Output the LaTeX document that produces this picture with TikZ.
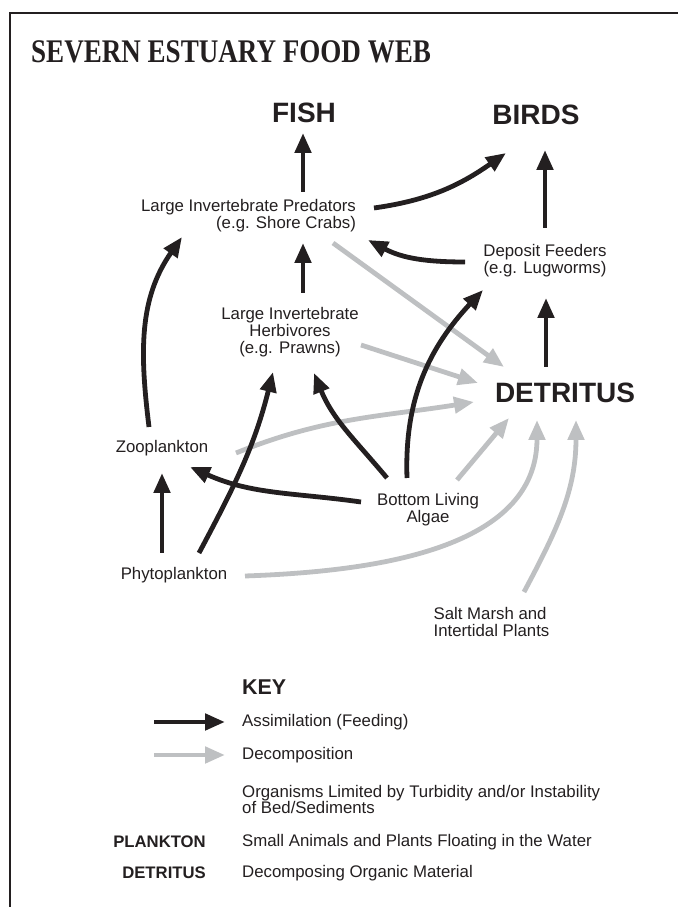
\documentclass[tikz,border=0pt]{standalone}
\usepackage{fontspec}
\setmainfont{Liberation Sans}
\newfontfamily\titlefont[FakeStretch=0.82]{Liberation Serif}
\usepackage{tikz}
\usetikzlibrary{arrows.meta, calc}
\definecolor{mydark}{RGB}{35,31,32}
\definecolor{mygray}{RGB}{190,192,194}
\tikzset{
  txt/.style={inner sep=0pt, text=mydark,
    font=\fontsize{16.8}{17}\selectfont},
  bigtxt/.style={inner sep=0pt, text=mydark,
    font=\fontsize{28}{30}\selectfont\bfseries},
  keytxt/.style={inner sep=0pt, text=mydark,
    font=\fontsize{16.7}{18}\selectfont\bfseries},
  feed/.style={-{Triangle[length=20pt,width=16pt]}, line width=4.8pt, color=mydark},
  decomp/.style={-{Triangle[length=20pt,width=16pt]}, line width=4.8pt, color=mygray}
}

\begin{document}
\begin{tikzpicture}[x=1pt,y=1pt]
  \useasboundingbox (0,0) rectangle (678,907);
  % ── frame and title ─────────────────────────────────────────────────────
  \draw[line width=1.3pt,color=mydark] (10,0) -- (10,894) -- (678,894);
  \node[anchor=west,inner sep=0pt,text=mydark,
    font=\titlefont\fontsize{33}{36}\bfseries\selectfont] (title) at (31,855)
    {SEVERN ESTUARY FOOD WEB};
  % ── organisms ───────────────────────────────────────────────────────────
  \node[bigtxt] (fish) at (304,794.5) {FISH};
  \node[bigtxt] (birds) at (536,792) {BIRDS};
  \node[bigtxt] (det) at (565,514) {DETRITUS};
  \node[txt,align=right] (pred) at (248.5,691) {Large Invertebrate Predators\\(e.g. Shore Crabs)};
  \node[txt,align=center] (herb) at (290,575) {Large Invertebrate\\Herbivores\\(e.g. Prawns)};
  \node[txt,align=center] (dep) at (545,646) {Deposit Feeders\\(e.g. Lugworms)};
  \node[txt] (zoo) at (162,459) {Zooplankton};
  \node[txt,align=center] (algae) at (428,397) {Bottom Living\\Algae};
  \node[txt] (phyto) at (174,332) {Phytoplankton};
  \node[txt,align=left] (salt) at (491.5,285) {Salt Marsh and\\Intertidal Plants};
  % ── decomposition ───────────────────────────────────────────────────────
  \draw[decomp] ($(pred)+(84.5,-27)$) -- ($(det)+(-61,26)$);
  \draw[decomp] ($(herb)+(71,-13)$) -- ($(det)+(-87,10)$);
  \draw[decomp] ($(zoo)+(74,-5)$) to[out=22,in=189] ($(det)+(-91,-9)$);
  \draw[decomp] ($(algae)+(29,30)$) -- ($(det)+(-56,-25)$);
  \draw[decomp] ($(phyto)+(71,-1)$) to[out=2,in=-90] ($(det)+(-28,-27)$);
  \draw[decomp] ($(salt)+(32.5,30)$) to[out=62,in=-90] ($(det)+(11,-27)$);
  % ── feeding ─────────────────────────────────────────────────────────────
  \draw[feed] ($(pred)+(54.5,24)$) -- ($(fish)+(-1,-20.5)$);
  \draw[feed] ($(dep)+(0,33)$) -- ($(birds)+(9,-35)$);
  \draw[feed] ($(det)+(-19,26)$) -- ($(dep)+(1,-37)$);
  \draw[feed] ($(herb)+(13,39)$) -- ($(pred)+(54.5,-27)$);
  \draw[feed] ($(pred)+(125.5,8)$) to[out=8,in=215] ($(birds)+(-30,-38)$);
  \draw[feed] ($(dep)+(-80,-1)$) to[out=180,in=-28] ($(pred)+(119.5,-24)$);
  \draw[feed] ($(zoo)+(-13,21)$) to[out=97,in=-125] ($(pred)+(-66.5,-21)$);
  \draw[feed] ($(algae)+(-67,8)$) to[out=172,in=-24] ($(zoo)+(28,-19)$);
  \draw[feed] ($(phyto)+(-12,22)$) -- ($(zoo)+(0,-25)$);
  \draw[feed] ($(phyto)+(25,22)$) to[out=62,in=-104] ($(herb)+(-17,-40)$);
  \draw[feed] ($(algae)+(-41,32)$) to[out=130,in=-68] ($(herb)+(24,-41)$);
  \draw[feed] ($(algae)+(-21,32)$) to[out=92,in=-133] ($(dep)+(-62,-29)$);
  % ── key ─────────────────────────────────────────────────────────────────
  \node[anchor=west,inner sep=0pt,text=mydark,
    font=\fontsize{21.4}{24}\selectfont\bfseries] (key) at (242,220) {KEY};
  \node[txt,anchor=west] (assim) at (242,185) {Assimilation (Feeding)};
  \node[txt,anchor=west] (dcmp) at (242,152) {Decomposition};
  \node[txt,anchor=west,align=left,font=\fontsize{16.8}{15}\selectfont] (limit) at (242,107.5)
    {Organisms Limited by Turbidity and/or Instability\\of Bed/Sediments};
  \node[keytxt,anchor=east] (plk) at (206,65) {PLANKTON};
  \node[txt,anchor=west] (plkdef) at (242,65) {Small Animals and Plants Floating in the Water};
  \node[keytxt,anchor=east] (dtr) at (206,34) {DETRITUS};
  \node[txt,anchor=west] (dtrdef) at (242,34) {Decomposing Organic Material};
  \coordinate (kfeed) at (154,185);
  \coordinate (kdecomp) at (154,152);
  \draw[feed,shorten >=17pt] (kfeed) -- (assim.west);
  \draw[decomp,shorten >=17pt] (kdecomp) -- (dcmp.west);
\end{tikzpicture}
\end{document}
